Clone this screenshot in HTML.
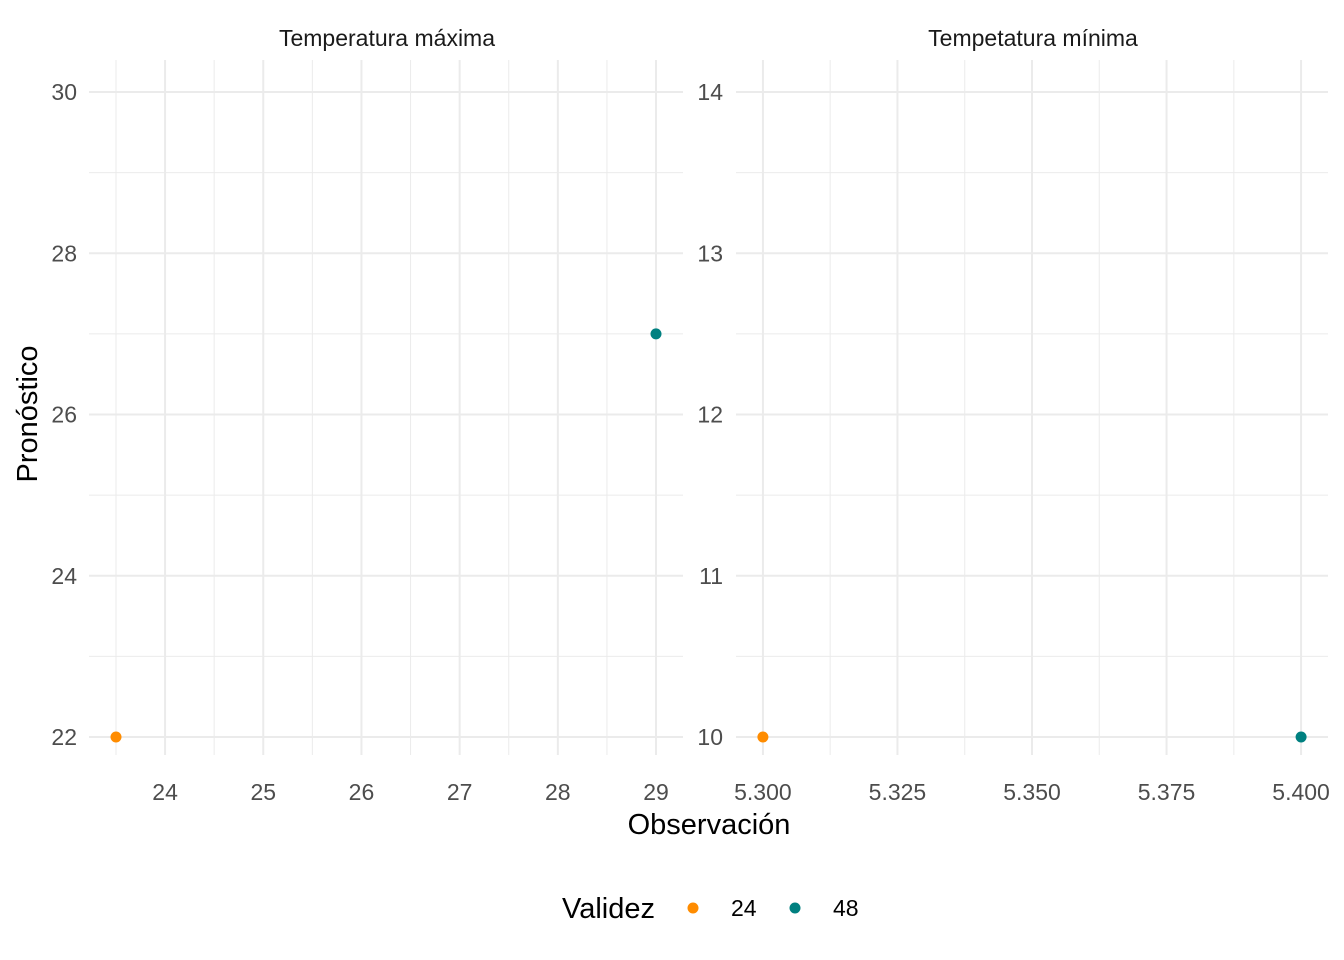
<!DOCTYPE html>
<html><head><meta charset="utf-8"><style>
body{margin:0;background:#fff}
svg{display:block;font-family:"Liberation Sans",sans-serif}
</style></head><body>
<svg id="c" width="1344" height="960"></svg>
<script>
const panelTitles=["Temperatura máxima","Tempetatura mínima"];
const obsMax=[23.5,29];
const fcMax=[22,27];
const obsMin=[5.3,5.4];
const fcMin=[10,10];
const validez=["24","48"];
const colors=["#FF8C00","#008080"];
const xTicks1=[24,25,26,27,28,29];
const xMinor1=[23.5,24.5,25.5,26.5,27.5,28.5];
const yTicks1=[22,24,26,28,30];
const yMinor1=[23,25,27,29];
const xTicks2=[5.3,5.325,5.35,5.375,5.4];
const xTickLabels2=["5.300","5.325","5.350","5.375","5.400"];
const xMinor2=[5.3125,5.3375,5.3625,5.3875];
const yTicks2=[10,11,12,13,14];
const yMinor2=[10.5,11.5,12.5,13.5];
const NS="http://www.w3.org/2000/svg";
const svg=document.getElementById('c');
function el(t,a,txt){const e=document.createElementNS(NS,t);for(const k in a)e.setAttribute(k,a[k]);if(txt!==undefined)e.textContent=txt;svg.appendChild(e);return e;}
const plotTop=60,plotBot=755;
const panels=[
 {x0:89,x1:683,dmin:23.225,dmax:29.275,xt:xTicks1,xl:xTicks1.map(String),xm:xMinor1,yt:yTicks1,ym:yMinor1,ox:obsMax,oy:fcMax,title:panelTitles[0],lab:77},
 {x0:736,x1:1328,dmin:5.295,dmax:5.405,xt:xTicks2,xl:xTickLabels2,xm:xMinor2,yt:yTicks2,ym:yMinor2,ox:obsMin,oy:fcMin,title:panelTitles[1],lab:723}
];
function ymap(p,v){
 if(p===0) return 737+(v-22)*(92-737)/8;
 return 737+(v-10)*(92-737)/4;
}
panels.forEach((p,i)=>{
 const xs=v=>p.x0+(v-p.dmin)/(p.dmax-p.dmin)*(p.x1-p.x0);
 p.xm.forEach(v=>{const l=el('line',{x1:xs(v),x2:xs(v),y1:plotTop,y2:plotBot,stroke:'#ebebeb','stroke-width':1});
  
  });
 p.ym.forEach(v=>{const l=el('line',{x1:p.x0,x2:p.x1,y1:ymap(i,v),y2:ymap(i,v),stroke:'#ebebeb','stroke-width':1});
  
  });
 p.xt.forEach((v,j)=>{const l=el('line',{x1:xs(v),x2:xs(v),y1:plotTop,y2:plotBot,stroke:'#ebebeb','stroke-width':2});
  
  
  const t=el('text',{x:xs(v),y:800,'text-anchor':'middle','font-size':23,fill:'#4d4d4d'},p.xl[j]);
  
  });
 p.yt.forEach(v=>{const l=el('line',{x1:p.x0,x2:p.x1,y1:ymap(i,v),y2:ymap(i,v),stroke:'#ebebeb','stroke-width':2});
  
  
  const t=el('text',{x:p.lab,y:ymap(i,v)+8,'text-anchor':'end','font-size':23,fill:'#4d4d4d'},String(v));
  
  });
 const st=el('text',{x:(p.x0+p.x1)/2+1,y:46,'text-anchor':'middle','font-size':23,fill:'#1a1a1a'},p.title);
 
 
 p.ox.forEach((v,j)=>{const c=el('circle',{cx:xs(v),cy:ymap(i,p.oy[j]),r:5.5,fill:colors[j]});
  
  });
});
let t=el('text',{x:709,y:834,'text-anchor':'middle','font-size':29,fill:'#000'},'Observación');


t=el('text',{x:0,y:0,'text-anchor':'middle','font-size':29,fill:'#000',transform:'translate(37,414) rotate(-90)'},'Pronóstico');


t=el('text',{x:562,y:918,'font-size':29,fill:'#000'},'Validez');


const lx=[693,795];
validez.forEach((v,j)=>{
 const c=el('circle',{cx:lx[j],cy:908,r:5.5,fill:colors[j]});
 
 
 const tt=el('text',{x:lx[j]+38,y:916,'font-size':23,fill:'#000'},v);
 
 
});
</script>
</body></html>
